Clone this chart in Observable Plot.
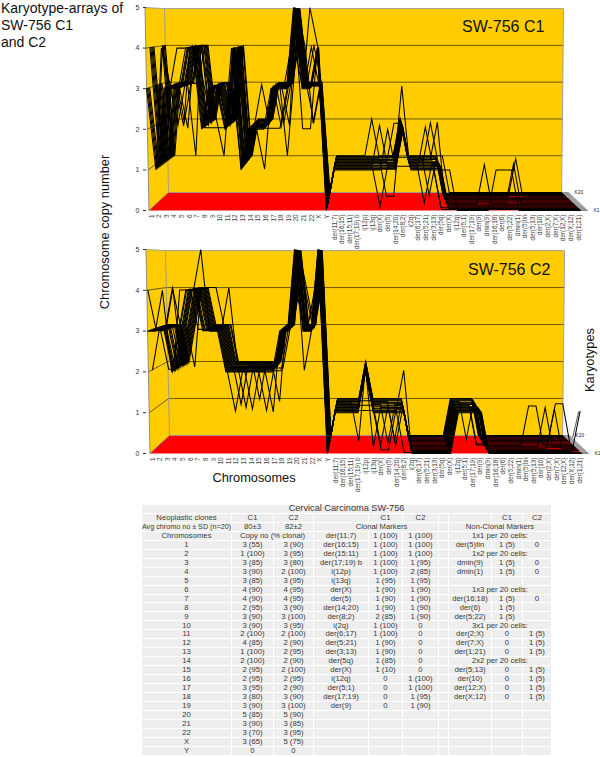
<!DOCTYPE html>
<html><head><meta charset="utf-8">
<script src="https://cdn.jsdelivr.net/npm/d3@7"></script>
<script src="https://cdn.jsdelivr.net/npm/@observablehq/plot@0.6"></script>
<style>
html,body{margin:0;padding:0;background:#fff;font-family:"Liberation Sans",Arial,sans-serif;}
#page{position:relative;width:600px;height:757px;overflow:hidden;}
.lbl{position:absolute;color:#111;white-space:nowrap;line-height:1;}
.rot{transform:translate(-50%,-50%) rotate(-90deg);}
#tbl{position:absolute;left:142px;top:505px;width:410px;height:251px;display:grid;
 grid-template-columns:90px 42px 40px 55px 34px 36px 10px 43px 31px 29px;grid-template-rows:repeat(28,8.964px);
 font-size:7.7px;line-height:1;color:#3a3a3a;text-align:center;}
#tbl div{background:#eeeeee;border-right:1px solid #fff;border-bottom:1px solid #fff;box-sizing:border-box;min-height:0;min-width:0;
 display:flex;align-items:center;justify-content:center;white-space:nowrap;overflow:visible;}
svg{position:absolute;overflow:visible;}
</style></head><body>
<div id="page">
 <div id="c1"></div><div id="c2"></div>
 <div class="lbl" style="left:1px;top:0px;font-size:14px;line-height:17px;white-space:pre">Karyotype-arrays of
SW-756 C1
and C2</div>
 <div class="lbl" style="left:462px;top:19px;font-size:16px;">SW-756 C1</div>
 <div class="lbl" style="left:468px;top:262px;font-size:16px;">SW-756 C2</div>
 <div class="lbl rot" style="left:105px;top:232px;font-size:12.8px;">Chromosome copy number</div>
 <div class="lbl" style="left:254px;top:478px;transform:translate(-50%,-50%);font-size:12.8px;">Chromosomes</div>
 <div class="lbl rot" style="left:590px;top:360px;font-size:12.8px;">Karyotypes</div>
 <div id="tbl"></div>
</div>
<script>
const chromosomeLabels=["1","2","3","4","5","6","7","8","9","10","11","12","13","14","15","16","17","18","19","20","21","22","X","Y"];
const markerLabels=["der(11;7)","der(16;15)","der(15;11)","der(17;19) b","i(12p)","i(13q)","der(X)","der(5)","der(14;20)","der(8;2)","i(2q)","der(6;17)","der(5;21)","der(3;13)","der(5q)","der(X)","i(12q)","der(5;1)","der(17;19)","der(9)","dmin(9)","der(16;18)","der(6)","der(5;22)","dmin(1)","der(5)tin","der(5;13)","der(10)","der(2;X)","der(7;X)","der(12;X)","der(X;12)","der(1;21)"];
const xLabels=chromosomeLabels.concat(markerLabels);

// copy number per category (one row), for karyotypes K1..K20 (one column)
const c1Copies=[
[3,3,3,3,4,4,4,4,4,3,3,3,3,3,3,3,4,4,4,4],
[1,1,1,1,1,1,1,1,1,1,1,1,1,1,1,1,1,1,1,1],
[4,4,3,3,3,3,3,3,3,3,3,2,3,3,3,3,3,3,3,3],
[3,3,3,3,3,3,3,3,2,3,3,3,3,3,3,2,3,3,3,3],
[4,3,3,3,3,3,2,3,3,3,3,3,3,3,3,3,3,3,3,1],
[4,4,2,4,4,4,4,4,4,4,4,4,4,4,4,3,4,4,4,4],
[4,4,4,4,4,4,4,4,4,3,4,4,4,3,4,4,4,4,4,4],
[2,2,2,2,2,2,2,2,2,2,3,2,2,2,2,2,2,2,2,2],
[3,3,3,2,3,3,3,3,3,3,3,3,3,3,3,3,3,3,3,1],
[3,3,3,2,3,3,3,3,3,3,3,3,3,2,3,3,3,3,3,3],
[2,2,2,2,2,2,2,2,2,2,2,2,2,2,2,2,2,2,2,2],
[4,3,4,4,4,4,4,4,3,4,4,4,4,4,4,4,4,3,4,4],
[1,1,1,1,1,1,1,1,1,1,1,1,1,1,1,1,1,1,1,1],
[2,2,2,2,2,2,2,2,2,2,2,2,2,2,2,2,2,2,2,2],
[2,2,2,2,2,2,2,2,2,2,2,2,3,2,2,2,2,2,2,2],
[2,1,2,2,2,2,2,2,2,2,2,2,2,2,2,2,2,2,2,2],
[3,3,2,3,3,3,3,3,3,3,3,3,3,3,3,3,3,3,3,3],
[3,3,2,3,3,2,3,3,3,3,3,2,3,3,3,3,3,3,3,1],
[3,3,3,3,3,3,3,2,3,3,3,3,3,3,4,3,3,3,3,3],
[5,5,4,5,5,5,5,5,5,4,5,5,5,5,5,4,5,5,5,5],
[3,2,3,3,3,3,3,3,3,3,3,4,3,3,3,3,3,3,3,3],
[3,2,3,5,3,3,3,4,3,3,3,2,3,3,2,3,3,4,3,3],
[4,4,4,4,4,4,4,3,3,3,3,3,3,3,3,3,3,3,3,3],
[0,0,0,0,0,0,0,0,0,0,0,0,0,0,0,0,0,0,0,0],
[1,1,1,1,1,1,1,1,1,1,1,1,1,1,1,1,1,1,1,1],
[1,1,1,1,1,1,1,1,1,1,1,1,1,1,1,1,1,1,1,1],
[1,1,1,1,1,1,1,1,1,1,1,1,1,1,1,1,1,1,1,1],
[1,1,1,1,1,1,1,1,1,1,1,1,1,1,1,1,1,1,1,1],
[1,1,1,1,1,1,1,1,1,1,1,1,1,1,1,1,1,1,1,1],
[1,1,1,1,1,1,1,1,1,1,1,1,1,1,1,1,1,1,1,2],
[1,1,1,1,0,1,1,2,1,1,1,1,1,1,1,1,1,1,1,1],
[2,1,1,1,1,1,1,1,1,1,1,1,1,1,1,0,1,1,1,1],
[1,1,1,1,1,1,1,1,1,1,1,2,1,1,1,0,1,1,1,1],
[2,2,2,2,2,1,2,2,3,2,2,2,2,2,2,2,2,1,2,2],
[1,1,1,1,1,1,1,1,1,1,1,1,1,1,1,1,1,1,1,1],
[1,1,1,1,1,1,1,1,1,1,1,1,1,1,1,1,1,1,1,1],
[1,1,1,1,2,1,1,1,0,1,1,1,1,1,1,1,1,1,1,1],
[1,1,1,1,1,1,1,1,1,1,1,1,2,1,1,1,0,1,1,1],
[1,0,1,0,1,1,1,1,1,1,1,1,1,2,1,1,1,1,1,1],
[1,0,0,0,0,0,0,0,0,0,0,0,0,0,0,0,0,0,0,1],
[0,0,0,0,0,0,0,0,0,0,0,0,0,0,0,0,0,0,0,0],
[0,0,0,0,0,0,0,0,0,0,0,0,0,0,0,0,0,0,0,0],
[0,0,0,0,0,0,0,0,0,0,0,0,0,0,0,0,0,0,0,0],
[0,0,0,0,0,0,0,0,0,0,0,0,0,0,0,0,0,0,0,0],
[0,0,0,0,0,0,0,1,0,0,0,0,0,0,0,0,0,0,0,0],
[1,0,0,0,0,0,0,0,0,0,0,0,0,0,0,0,0,0,0,0],
[1,0,0,0,0,0,0,0,0,0,0,0,0,0,0,0,0,0,0,0],
[1,0,0,0,0,0,0,0,0,0,0,0,0,0,0,0,0,0,0,0],
[0,0,0,0,0,0,0,0,1,0,0,0,0,0,0,0,0,0,0,0],
[0,0,0,0,0,0,0,0,0,0,0,0,0,0,0,1,0,0,0,0],
[0,0,0,0,0,0,0,0,0,0,0,0,0,0,0,0,0,0,0,0],
[0,0,0,0,0,0,0,0,0,0,0,0,0,0,0,0,0,0,0,0],
[0,0,0,0,0,0,0,0,0,0,0,0,0,0,0,0,0,0,0,0],
[0,0,0,0,0,0,0,0,0,0,0,0,0,0,0,0,0,0,0,0],
[0,0,0,0,0,0,0,0,0,0,0,0,0,0,0,0,0,0,0,0],
[0,0,0,0,0,0,0,0,0,0,0,0,0,0,0,0,0,0,0,0],
[0,0,0,0,0,0,0,0,0,0,0,0,0,0,0,0,0,0,0,0]];
const c2Copies=[
[3,4,3,3,2,3,3,3,3,3,3,3,3,3,3,3,3,3,3,3],
[3,3,3,3,3,3,3,3,3,3,3,3,3,3,3,3,3,3,4,3],
[4,3,3,3,3,2,3,3,3,2,3,4,3,3,3,3,3,3,3,3],
[2,2,2,2,2,2,2,2,2,2,2,2,2,2,2,2,2,2,2,2],
[3,3,4,3,3,3,3,3,3,3,3,3,3,3,3,3,3,3,3,3],
[4,4,4,4,4,4,4,4,4,2,4,4,4,4,4,4,4,4,4,4],
[4,4,4,4,4,3,4,4,4,4,4,4,4,4,4,4,4,4,4,4],
[5,3,3,3,3,3,3,3,3,3,3,3,3,3,3,3,3,3,3,4],
[3,3,3,3,3,3,3,3,3,3,3,3,3,3,3,3,3,3,3,3],
[3,3,3,3,3,3,3,3,3,3,3,3,3,3,3,3,3,4,3,3],
[2,2,2,2,2,2,2,2,2,2,2,2,2,2,2,2,2,2,2,2],
[2,2,1,2,2,2,2,2,2,2,2,1,2,2,2,2,2,2,2,2],
[2,2,2,2,2,2,2,1,2,2,2,2,2,2,2,2,2,2,2,2],
[2,2,2,2,2,1,2,2,2,2,2,2,2,2,2,2,2,2,1,2],
[2,2,2,2,2,2,2,2,2,2,2,2,2,2,2,2,2,2,2,2],
[2,2,2,1,2,2,2,2,2,2,2,2,2,2,2,2,2,2,2,2],
[2,1,2,2,2,2,2,2,2,2,2,2,2,2,2,1,2,2,2,2],
[3,3,2,3,3,3,3,2,3,3,3,3,3,3,3,3,3,3,3,3],
[3,3,3,3,3,3,3,3,3,3,3,3,3,3,3,3,3,3,3,3],
[5,5,5,5,4,5,5,5,5,5,5,5,5,5,4,5,5,5,5,5],
[3,3,3,2,3,3,3,3,4,3,3,3,3,4,3,3,3,3,3,3],
[3,3,3,3,3,3,3,3,3,3,3,3,3,3,3,3,3,4,3,3],
[5,5,5,5,5,5,5,4,5,4,5,4,5,4,5,5,4,5,5,5],
[0,0,0,0,0,0,0,0,0,0,0,0,0,0,0,0,0,0,0,0],
[1,1,1,1,1,1,1,1,1,1,1,1,1,1,1,1,1,1,1,1],
[1,1,1,1,1,1,1,1,1,1,1,1,1,1,1,1,1,1,1,1],
[1,1,1,1,1,1,1,1,1,1,1,1,1,1,1,1,1,1,1,1],
[1,1,1,1,1,1,1,1,1,1,1,1,1,0,1,1,1,1,1,1],
[2,2,2,1,2,2,2,2,2,2,1,2,2,2,2,2,1,2,2,2],
[1,1,1,1,1,1,1,0,1,1,1,1,1,1,1,1,1,1,1,1],
[1,1,1,1,0,1,1,1,1,0,1,1,1,1,1,1,1,1,1,1],
[1,1,1,1,0,1,1,1,1,1,1,0,1,1,1,1,1,1,1,1],
[1,1,1,1,1,1,1,1,0,1,1,1,1,1,1,0,1,1,1,1],
[1,0,1,2,1,1,1,1,1,1,1,1,1,1,1,1,1,1,1,1],
[0,0,0,0,0,0,0,0,0,0,0,0,0,0,0,0,0,0,0,0],
[0,0,0,0,0,0,0,0,0,0,0,0,0,0,0,0,0,0,0,0],
[0,0,0,0,0,0,0,0,0,0,0,0,0,0,0,0,0,0,0,0],
[0,0,0,0,0,0,0,0,0,0,0,0,0,0,0,0,0,0,0,0],
[0,0,0,0,0,0,0,0,0,0,0,0,0,0,0,0,0,0,0,0],
[0,0,0,0,0,0,0,0,0,0,0,0,0,0,0,0,0,0,0,0],
[1,1,1,1,1,1,1,1,1,1,1,1,1,1,1,1,1,1,1,1],
[1,1,1,1,1,1,1,1,1,1,1,1,1,1,1,1,1,1,1,1],
[1,1,1,1,1,1,1,1,1,1,1,1,1,1,1,0,1,1,1,1],
[1,1,1,1,1,1,1,1,1,0,0,1,1,1,1,1,1,1,1,1],
[0,0,0,0,0,0,0,0,0,0,0,0,0,0,0,0,0,0,0,0],
[0,0,0,0,0,0,0,0,0,0,0,0,0,0,0,0,0,0,0,0],
[0,0,0,0,0,0,0,0,0,0,0,0,0,0,0,0,0,0,0,0],
[0,0,0,0,0,0,0,0,0,0,0,0,0,0,0,0,0,0,0,0],
[0,0,0,0,0,0,0,0,0,0,0,0,0,0,0,0,0,0,0,0],
[0,0,0,0,0,0,0,0,0,0,0,0,0,0,0,0,0,0,0,0],
[0,0,0,0,0,0,0,0,0,1,0,0,0,0,0,0,0,0,0,0],
[0,0,0,0,0,0,0,0,0,1,0,0,0,0,0,0,0,0,0,0],
[0,0,0,0,0,0,0,1,0,0,0,0,0,0,0,0,0,0,0,0],
[0,0,0,0,0,1,0,0,0,0,0,0,0,0,0,0,0,0,0,0],
[0,0,0,0,0,0,0,0,0,0,0,0,1,0,0,0,0,0,0,0],
[0,0,0,0,0,0,0,0,0,0,0,0,1,0,0,0,0,0,0,0],
[0,0,1,0,0,0,0,0,0,0,0,0,0,0,0,0,0,0,0,0]];

// table columns
const tableTitle="Cervical Carcinoma SW-756";
const colChrom=["Neoplastic clones","Avg chromo no ± SD (n=20)","Chromosomes"].concat(chromosomeLabels);
const colC1=["C1","80±3","Copy no (% clonal)","3 (55)","1 (100)","3 (85)","3 (90)","3 (85)","4 (90)","4 (90)","2 (95)","3 (90)","3 (90)","2 (100)","4 (85)","1 (100)","2 (100)","2 (95)","2 (95)","3 (95)","3 (80)","3 (90)","5 (85)","3 (90)","3 (70)","3 (65)","0"];
const colC2=["C2","82±2","","3 (90)","3 (95)","3 (80)","2 (100)","3 (95)","4 (95)","4 (95)","3 (90)","3 (100)","3 (95)","2 (100)","2 (90)","2 (95)","2 (90)","2 (100)","2 (95)","2 (90)","3 (90)","3 (100)","5 (90)","3 (85)","3 (95)","5 (75)","0"];
const colClonal=["","Clonal Markers","der(11;7)","der(16;15)","der(15;11)","der(17;19) b","i(12p)","i(13q)","der(X)","der(5)","der(14;20)","der(8;2)","i(2q)","der(6;17)","der(5;21)","der(3;13)","der(5q)","der(X)","i(12q)","der(5;1)","der(17;19)","der(9)","","","","","",""];
const colClonalC1=["C1","","1 (100)","1 (100)","1 (100)","1 (100)","1 (100)","1 (95)","1 (90)","1 (90)","1 (90)","2 (85)","1 (100)","1 (100)","1 (90)","1 (90)","1 (85)","1 (10)","0","0","0","0","","","","","",""];
const colClonalC2=["C2","","1 (100)","1 (100)","1 (100)","1 (95)","2 (85)","1 (95)","1 (90)","1 (90)","1 (90)","1 (90)","0","0","0","0","0","0","1 (100)","1 (100)","1 (95)","1 (90)","","","","","",""];
const colNon=["","Non-Clonal Markers","1x1 per 20 cells:","der(5)tin","1x2 per 20 cells:","dmin(9)","dmin(1)","","1x3 per 20 cells:","der(16;18)","der(6)","der(5;22)","3x1 per 20 cells:","der(2;X)","der(7;X)","der(1;21)","2x2 per 20 cells:","der(5;13)","der(10)","der(12;X)","der(X;12)","","","","","","",""];
const colNonC1=["C1","","","1 (5)","","1 (5)","1 (5)","","","1 (5)","1 (5)","1 (5)","","0","0","0","","0","0","0","0","","","","","","",""];
const colNonC2=["C2","","","0","","0","0","","","0","","","","1 (5)","1 (5)","1 (5)","","1 (5)","1 (5)","1 (5)","1 (5)","","","","","","",""];

// perspective of the box: t=0 is the front row (K1), t=1 the back row (K20)
function px(i,v,t){
  const front=-0.33+1.011*i, back=2.23+0.9206*i;
  return front+(back-front)*t+v*(-0.105+0.157*i/56);
}
function py(v,t){return (1-t)*v+t*(0.443+0.906*v);}
const P=(i,v,t)=>({x:px(i,v,t),y:py(v,t)});
const poly=(pts,opts)=>Plot.line(pts,{x:"x",y:"y",...opts});

function chart(copies,xRange,yRange,pointer){
  const series=[];
  for(let k=0;k<20;k++)copies.forEach((row,i)=>{
    const p=P(i,row[k],k/19);series.push({k,x:p.x,y:p.y});
  });
  const grid=[1,2,3,4];
  const rows=d3.range(20);
  const marks=[
    poly([P(0,0,0),P(0,5,0),P(0,5,1),P(56,5,1),P(56,0,1),P(0,0,1)],{fill:"#FFCC00",stroke:"none"}),
    poly([P(0,0,0),P(0,0,1),P(56,0,1),P(56,0,0)],{fill:"#FF0000",stroke:"none"}),
    ...grid.map(v=>poly([P(0,v,0),P(0,v,1),P(56,v,1)],{stroke:"#5f4c00",strokeWidth:0.9})),
    poly([P(0,5,0),P(0,5,1),P(56,5,1),P(56,0,1),P(0,0,1),P(0,5,1)],{stroke:"#999",strokeWidth:0.9}),
    poly([P(0,5,0),P(0,0,0),P(0,0,1)],{stroke:"#777",strokeWidth:0.8}),
    Plot.link(rows,{x1:k=>px(56,0,k/19),y1:k=>py(0,k/19),x2:k=>px(56,0,k/19)+0.95,y2:k=>py(0,k/19),stroke:"#666",strokeWidth:0.7}),
    Plot.line(series,{x:"x",y:"y",z:"k",stroke:"#000",strokeWidth:1.05,strokeLinejoin:"miter",strokeMiterlimit:6}),
    Plot.text([{t:"K20",k:1},{t:"K1",k:0}],{x:d=>px(56,0,d.k)+1.7,y:d=>py(0,d.k),text:"t",textAnchor:"start",fontSize:4.8,fill:"#222"}),
    Plot.axisY({ticks:[0,1,2,3,4,5],tickFormat:"d",tickSize:3,tickPadding:4,fontSize:7,label:null,color:"#333"}),
    Plot.axisX({ticks:d3.range(57),tickFormat:i=>xLabels[i],tickSize:0,tickPadding:4,tickRotate:-90,fontSize:6.4,label:null,color:"#444"})
  ];
  if(pointer)marks.push(Plot.link([pointer],{x1:"x1",y1:"y1",x2:"x2",y2:"y2",stroke:"#111",strokeWidth:0.7}));
  return Plot.plot({width:600,height:250,marginLeft:146,marginRight:0,marginTop:0,marginBottom:40,
    style:{background:"transparent",fontFamily:"Liberation Sans"},
    x:{type:"linear",domain:[0,56],range:xRange},y:{type:"linear",domain:[0,5],range:yRange},marks});
}
const svg1=chart(c1Copies,[151,578],[210,7],null);
svg1.style.cssText+=";position:absolute;left:0;top:0;";
document.getElementById("c1").append(svg1);
const svg2=chart(c2Copies,[152,579],[210,6],{x1:55.9,y1:1.03,x2:55.1,y2:0.39});
svg2.style.cssText+=";position:absolute;left:0;top:243px;";
document.getElementById("c2").append(svg2);

// table
const tbl=document.getElementById("tbl");
function cell(text,col,row,span,extra){
  const d=document.createElement("div");d.textContent=text;
  d.style.gridColumn=(col+1)+" / span "+(span||1);d.style.gridRow=String(row+1);
  if(extra)d.style.cssText+=";"+extra;
  tbl.append(d);
}
cell(tableTitle,0,0,10,"font-size:9.2px;");
for(let r=0;r<27;r++){
  const row=r+1;
  cell(colChrom[r],0,row,1,r===1?"font-size:7.2px;":"");
  if(r===2){cell(colC1[r],1,row,2);}else{cell(colC1[r],1,row);cell(colC2[r],2,row);}
  if(r===1){cell(colClonal[r],3,row,3,"padding-left:11px;");}
  else{cell(colClonal[r],3,row);cell(colClonalC1[r],4,row);cell(colClonalC2[r],5,row);}
  cell("",6,row);
  if(/cells:|Markers/.test(colNon[r])){cell(colNon[r],7,row,3);}
  else{cell(colNon[r],7,row);cell(colNonC1[r],8,row);cell(colNonC2[r],9,row);}
}
</script>
</body></html>
